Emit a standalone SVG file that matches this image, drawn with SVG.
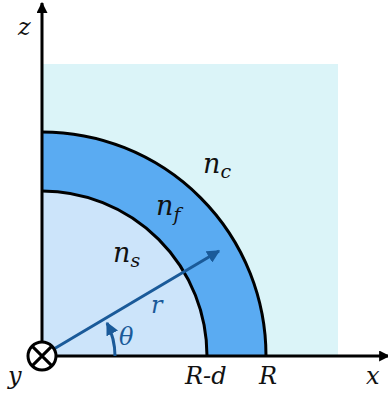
<svg xmlns="http://www.w3.org/2000/svg" width="388" height="396" viewBox="0 0 388 396">
<defs>
<style>
.lbl{font-family:'DejaVu Serif','Liberation Serif',serif;font-style:italic;font-size:24px;fill:#111;}
.big{font-size:27px;}
.sub{font-size:19px;}
.blue{fill:#1a5a99;}
.ax{stroke:#000;stroke-width:3;fill:none;}
.bnd{stroke:#000;stroke-width:3;fill:none;}
</style>
<marker id="ah" viewBox="0 0 10 10" refX="9" refY="5" markerWidth="11" markerHeight="11" markerUnits="userSpaceOnUse" orient="auto">
<path d="M0,0 L10,5 L0,10 z" fill="#000"/>
</marker>
<marker id="bh" viewBox="0 0 10 10" refX="9" refY="5" markerWidth="13" markerHeight="13" markerUnits="userSpaceOnUse" orient="auto">
<path d="M0,0 L10,5 L0,10 z" fill="#1a5a99"/>
</marker>
</defs>
<g id="cladding">
<rect x="42" y="64" width="296" height="292" fill="#dbf4f8"/>
</g>
<g id="film">
<path d="M42,132 A224,224 0 0 1 266,356 L207,356 A165,165 0 0 0 42,191 Z" fill="#5aabf2"/>
</g>
<g id="substrate">
<path d="M42,191 A165,165 0 0 1 207,356 L42,356 Z" fill="#cce4fa"/>
</g>
<g id="boundaries">
<path class="bnd" d="M42,132 A224,224 0 0 1 266,356"/>
<path class="bnd" d="M42,191 A165,165 0 0 1 207,356"/>
</g>
<g id="connectors">
<line class="ax" x1="42" y1="357" x2="42" y2="3" marker-end="url(#ah)"/>
<line class="ax" x1="42" y1="356" x2="389" y2="356" marker-end="url(#ah)"/>
<line x1="42" y1="356" x2="219" y2="251" stroke="#1a5a99" stroke-width="3" marker-end="url(#bh)"/>
<path d="M115,356 A73,73 0 0 0 107,323" stroke="#1a5a99" stroke-width="3" fill="none" marker-end="url(#bh)"/>
</g>
<g id="y-axis">
<circle cx="42" cy="356" r="14" fill="#fff" stroke="#000" stroke-width="3"/>
<path d="M32.1,346.1 L51.9,365.9 M51.9,346.1 L32.1,365.9" stroke="#000" stroke-width="3"/>
</g>
<g id="labels">
<text class="lbl" x="18" y="35">z</text>
<text class="lbl" x="8" y="384">y</text>
<text class="lbl" x="366" y="384">x</text>
<text class="lbl" x="185" y="384">R-d</text>
<text class="lbl" x="259" y="384">R</text>
<text class="lbl blue" x="119" y="345">θ</text>
<text class="lbl blue" x="151" y="313">r</text>
<text class="lbl big" x="113" y="262">n<tspan class="sub" dy="5">s</tspan></text>
<text class="lbl big" x="156" y="215">n<tspan class="sub" dy="6">f</tspan></text>
<text class="lbl big" x="203" y="173">n<tspan class="sub" dy="5">c</tspan></text>
</g>
</svg>
